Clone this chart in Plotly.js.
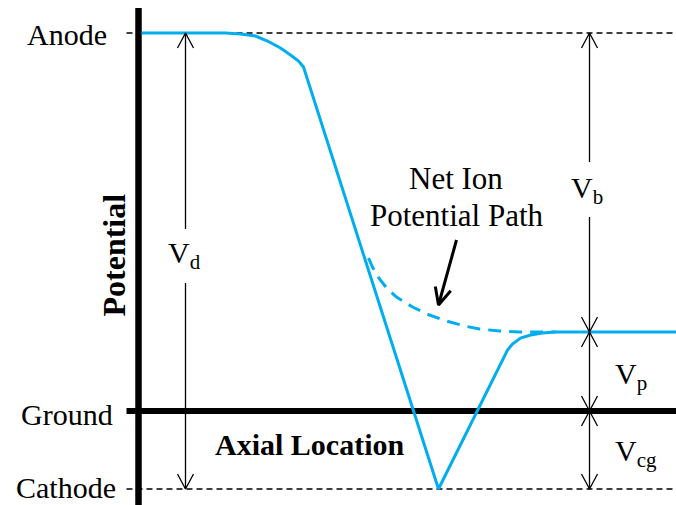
<!DOCTYPE html>
<html>
<head>
<meta charset="utf-8">
<script src="https://cdn.plot.ly/plotly-3.0.1.min.js"></script>
<style>html,body{margin:0;padding:0;background:#fff;}#chart{width:676px;height:505px;}</style>
</head>
<body>
<div id="chart"></div>
<script>
// Potential levels (ground = 0)
const ANODE = 378;
const PLASMA = 79;
const GROUND = 0;
const CATHODE = -78;

// Axial location extents
const X_LEFT_TICK = -12;
const X_END = 538;

// Electron/plasma potential profile (solid blue)
const profileX = [3, 87, 102, 117, 129, 142, 152, 160, 165, 300, 369, 374, 382, 392, 404, 417, 538];
const profileY = [378, 378, 377, 375, 370, 363, 356, 350, 344, -78, 61, 67, 73, 76, 78, 79, 79];

// Net ion potential path (dashed blue)
const ionX = [230, 234, 241, 249, 258, 274, 291, 308, 326, 341, 361, 381, 417];
const ionY = [153, 144, 132, 122, 114, 104, 96, 90, 85, 82, 80, 79, 79];

// Net Ion pointer arrow (tail, tip)
const pointerX = [318, 300];
const pointerY = [171, 106];

// Dimension arrows
const vdX = 47, vdGap = [182, 128];
const rightX = 451, vbGap = [249, 194];

// Level labels
const levelLabels = ["Anode", "Ground", "Cathode"];
const levelValues = [ANODE, GROUND, CATHODE];

const BLUE = "#00AEEF";
const FONT = "Liberation Serif, Times New Roman, serif";

const traces = [];
function line(xs, ys, color, width, dash) {
  traces.push({type: "scatter", mode: "lines", x: xs, y: ys, hoverinfo: "skip",
    line: {color: color, width: width, dash: dash || "solid"}});
}
// open V arrowhead at tip (x,y) pointing along dir (dx,dy)
function head(x, y, dx, dy, w, len, half) {
  const L = Math.hypot(dx, dy); const ux = dx / L, uy = dy / L;
  const px = -uy, py = ux;
  line([x - ux * len + px * half, x, x - ux * len - px * half],
       [y - uy * len + py * half, y, y - uy * len - py * half], "#000", w);
}

// Reference dashed levels
line([X_LEFT_TICK, X_END], [ANODE, ANODE], "#000", 1.3, "6px,4px");
line([X_LEFT_TICK, X_END], [CATHODE, CATHODE], "#000", 1.3, "6px,4px");
// Axes
line([0, 0], [403, -94], "#000", 6.5);
line([X_LEFT_TICK, X_END], [GROUND, GROUND], "#000", 6);

// Curves
line(ionX, ionY, BLUE, 3, "13px,8px");
line(profileX, profileY, BLUE, 3);

// V_d arrow
line([vdX, vdX], [ANODE, vdGap[0]], "#000", 1.3);
line([vdX, vdX], [vdGap[1], CATHODE], "#000", 1.3);
head(vdX, ANODE, 0, 1, 1.3, 15, 8);
head(vdX, CATHODE, 0, -1, 1.3, 15, 8);
// V_b arrow
line([rightX, rightX], [ANODE, vbGap[0]], "#000", 1.3);
line([rightX, rightX], [vbGap[1], PLASMA], "#000", 1.3);
head(rightX, ANODE, 0, 1, 1.3, 15, 8);
head(rightX, PLASMA, 0, -1, 1.3, 15, 8);
// V_p arrow
line([rightX, rightX], [PLASMA, GROUND], "#000", 1.3);
head(rightX, PLASMA, 0, 1, 1.3, 15, 8);
head(rightX, GROUND, 0, -1, 1.3, 15, 8);
// V_cg arrow
line([rightX, rightX], [GROUND, CATHODE], "#000", 1.3);
head(rightX, GROUND, 0, 1, 1.3, 15, 8);
head(rightX, CATHODE, 0, -1, 1.3, 15, 8);
// pointer arrow
line(pointerX, pointerY, "#000", 3);
head(pointerX[1], pointerY[1], pointerX[1] - pointerX[0], pointerY[1] - pointerY[0], 3, 17, 8);

const annotations = [];
function label(text, x, y, size, opts) {
  annotations.push(Object.assign({text: text, x: x, y: y, xref: "x", yref: "y", showarrow: false,
    font: {family: FONT, size: size, color: "#000"}, xanchor: "center", yanchor: "middle"}, opts || {}));
}
label(levelLabels[0], -72, levelValues[0] - 1, 30);
label(levelLabels[1], -72, levelValues[1] - 3, 30);
label(levelLabels[2], -73, -94, 30, {yanchor: "bottom", borderpad: 0});
label("<b>Potential</b>", -25, 156, 32, {textangle: -90});
label("<b>Axial Location</b>", 171, -33, 30);
label("Net Ion", 317, 233, 31);
label("Potential Path", 318, 196, 31);
label("V<sub>d</sub>", 46, 156, 30);
label("V<sub>b</sub>", 448, 221, 30);
label("V<sub>p</sub>", 474, 35, 30, {xanchor: "left"});
label("V<sub>cg</sub>", 474, -42, 30, {xanchor: "left"});

Plotly.newPlot("chart", traces, {
  width: 676, height: 505,
  margin: {l: 0, r: 0, t: 0, b: 0},
  paper_bgcolor: "#fff", plot_bgcolor: "#fff",
  showlegend: false,
  xaxis: {range: [-138.5, 537.5], visible: false, fixedrange: true},
  yaxis: {range: [-94, 411], visible: false, fixedrange: true},
  annotations: annotations
}, {staticPlot: true, displayModeBar: false});
</script>
</body>
</html>
